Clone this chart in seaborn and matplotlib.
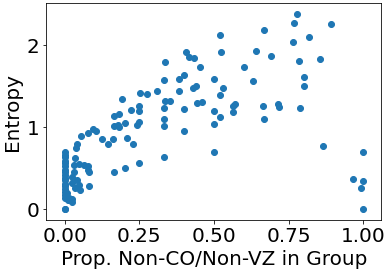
import matplotlib
matplotlib.use("Agg")
import matplotlib.pyplot as plt
import numpy as np
import pandas as pd
import seaborn as sns

# proportion of non-CO/non-VZ members in each group
prop = [
    0.193, 0.252, 0.277, 0.310, 0.223, 0.250, 0.250, 0.182, 0.166, 0.521,
    0.668, 0.407, 0.417, 0.434, 0.524, 0.641, 0.691, 0.337, 0.454, 0.601,
    0.333, 0.384, 0.400, 0.501, 0.631, 0.384, 0.431, 0.441, 0.531, 0.521,
    0.337, 0.354, 0.333, 0.444, 0.461, 0.400, 0.501, 0.571, 0.564, 0.564,
    0.665, 0.779, 0.769, 0.893, 0.819, 0.765, 0.785, 0.856, 0.802, 0.802,
    0.715, 0.718, 0.789, 0.521, 0.668, 0.501, 0.400, 0.333, 0.333, 0.501,
    0.866, 1.000, 0.966, 1.000, 0.993, 1.000, 0.333,
    0.241, 0.249, 0.166, 0.177, 0.182, 0.200, 0.126, 0.144, 0.163, 0.208,
    0.230, 0.249, 0.200, 0.166,
    0.096, 0.106, 0.077, 0.055, 0.040, 0.038, 0.035, 0.030, 0.047, 0.064,
    0.078, 0.080, 0.030, 0.024, 0.041, 0.024, 0.035, 0.052, 0.047, 0.082,
    0.008, 0.013, 0.024, 0.002, 0.012, 0.023, 0.079,
    0.0, 0.0, 0.0, 0.0, 0.0, 0.0, 0.0, 0.0, 0.0, 0.0, 0.0, 0.0, 0.0, 0.0,
    0.0, 0.0, 0.0, 0.0,
]
entropy = [
    1.340, 1.414, 1.401, 1.442, 1.210, 1.258, 1.197, 1.157, 1.136, 2.122,
    2.183, 1.914, 1.853, 1.841, 1.914, 1.927, 1.866, 1.792, 1.731, 1.731,
    1.572, 1.585, 1.633, 1.585, 1.560, 1.438, 1.475, 1.499, 1.475, 1.389,
    1.316, 1.316, 1.230, 1.291, 1.304, 1.218, 1.194, 1.279, 1.255, 1.181,
    1.255, 2.379, 2.269, 2.257, 2.098, 2.037, 1.805, 1.829, 1.609, 1.499,
    1.279, 1.243, 1.230, 1.120, 1.096, 1.035, 0.949, 1.096, 1.010, 0.693,
    0.766, 0.693, 0.363, 0.338, 0.253, 0.000, 0.632,
    1.026, 1.067, 1.014, 1.026, 0.998, 1.047, 0.852, 0.794, 0.852, 0.864,
    0.794, 0.566, 0.497, 0.456,
    0.981, 0.949, 0.925, 0.896, 0.794, 0.742, 0.619, 0.538, 0.550, 0.538,
    0.525, 0.456, 0.456, 0.395, 0.354, 0.314, 0.253, 0.232, 0.293, 0.285,
    0.192, 0.131, 0.089, 0.171, 0.110, 0.119, 0.476,
    0.70, 0.66, 0.63, 0.59, 0.56, 0.52, 0.48, 0.45, 0.41, 0.38, 0.35, 0.31,
    0.28, 0.25, 0.21, 0.14, 0.0, 0.0,
]

df = pd.DataFrame({"prop": prop, "entropy": entropy})

plt.rcParams["font.size"] = 20
fig = plt.figure(figsize=(389 / 72, 273 / 72), dpi=72)
ax = fig.add_axes([0.119, 0.194, 0.861, 0.794])
sns.scatterplot(data=df, x="prop", y="entropy", ax=ax, s=36,
                color="#1f77b4", edgecolor="#1f77b4", linewidth=1)
ax.set_xlim(-0.062, 1.06)
ax.set_ylim(-0.134, 2.513)
ax.set_xticks([0, 0.25, 0.5, 0.75, 1.0])
ax.set_xticklabels(["0.00", "0.25", "0.50", "0.75", "1.00"])
ax.set_yticks([0, 1, 2])
ax.set_xlabel("Prop. Non-CO/Non-VZ in Group")
ax.set_ylabel("Entropy")
fig.savefig("out.png", dpi=72)
